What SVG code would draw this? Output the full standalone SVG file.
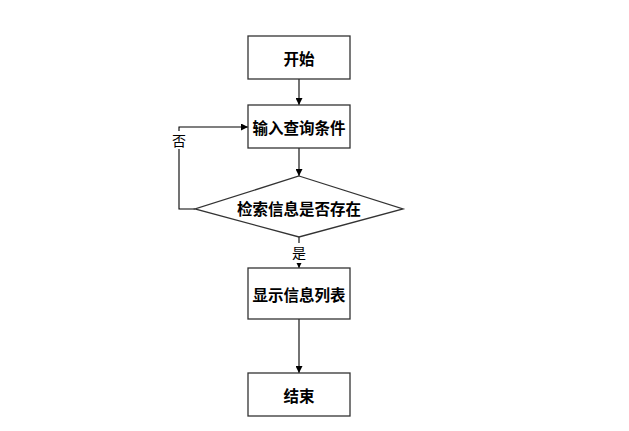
<svg xmlns="http://www.w3.org/2000/svg" width="629" height="431" viewBox="0 0 629 431">
<defs>
<style>
.box{fill:#fff;stroke:#333;stroke-width:1.3}
.t{font-family:"Noto Sans CJK SC","Noto Sans",sans-serif;font-size:15.5px;font-weight:bold;fill:#000;text-anchor:middle;dominant-baseline:central}
.l{font-family:"Noto Sans CJK SC","Noto Sans",sans-serif;font-size:14px;fill:#000;text-anchor:middle;dominant-baseline:central}
.c{fill:none;stroke:#000;stroke-width:1.1}
</style>
<marker id="ah" viewBox="0 0 10 10" refX="10" refY="5" markerWidth="7" markerHeight="7" markerUnits="userSpaceOnUse" orient="auto"><path d="M0,0 L10,5 L0,10 z" fill="#000"/></marker>
</defs>
<rect width="629" height="431" fill="#fff"/>
<g id="connectors">
<line class="c" x1="299" y1="79" x2="299" y2="105" marker-end="url(#ah)"/>
<line class="c" x1="299" y1="148" x2="299" y2="176" marker-end="url(#ah)"/>
<polyline class="c" points="195,209 179,209 179,127 248,127" marker-end="url(#ah)"/>
<line class="c" x1="299" y1="237" x2="299" y2="268" marker-end="url(#ah)"/>
<line class="c" x1="299" y1="319" x2="299" y2="373" marker-end="url(#ah)"/>
<rect x="170" y="131" width="18" height="18" fill="#fff"/>
<text class="l" x="179" y="140">否</text>
<rect x="290" y="243" width="18" height="20" fill="#fff"/>
<text class="l" x="299" y="252">是</text>
</g>
<g id="start">
<rect class="box" x="248" y="36" width="102" height="43"/>
<text class="t" x="299" y="57.5">开始</text>
</g>
<g id="input">
<rect class="box" x="248" y="105" width="102" height="43"/>
<text class="t" x="299" y="126.5">输入查询条件</text>
</g>
<g id="decision">
<polygon class="box" points="299,176 403,209 299,237 195,209"/>
<text class="t" x="299" y="208">检索信息是否存在</text>
</g>
<g id="display">
<rect class="box" x="248" y="268" width="102" height="51"/>
<text class="t" x="299" y="293.5">显示信息列表</text>
</g>
<g id="end">
<rect class="box" x="248" y="373" width="102" height="43"/>
<text class="t" x="299" y="394.5">结束</text>
</g>
</svg>
